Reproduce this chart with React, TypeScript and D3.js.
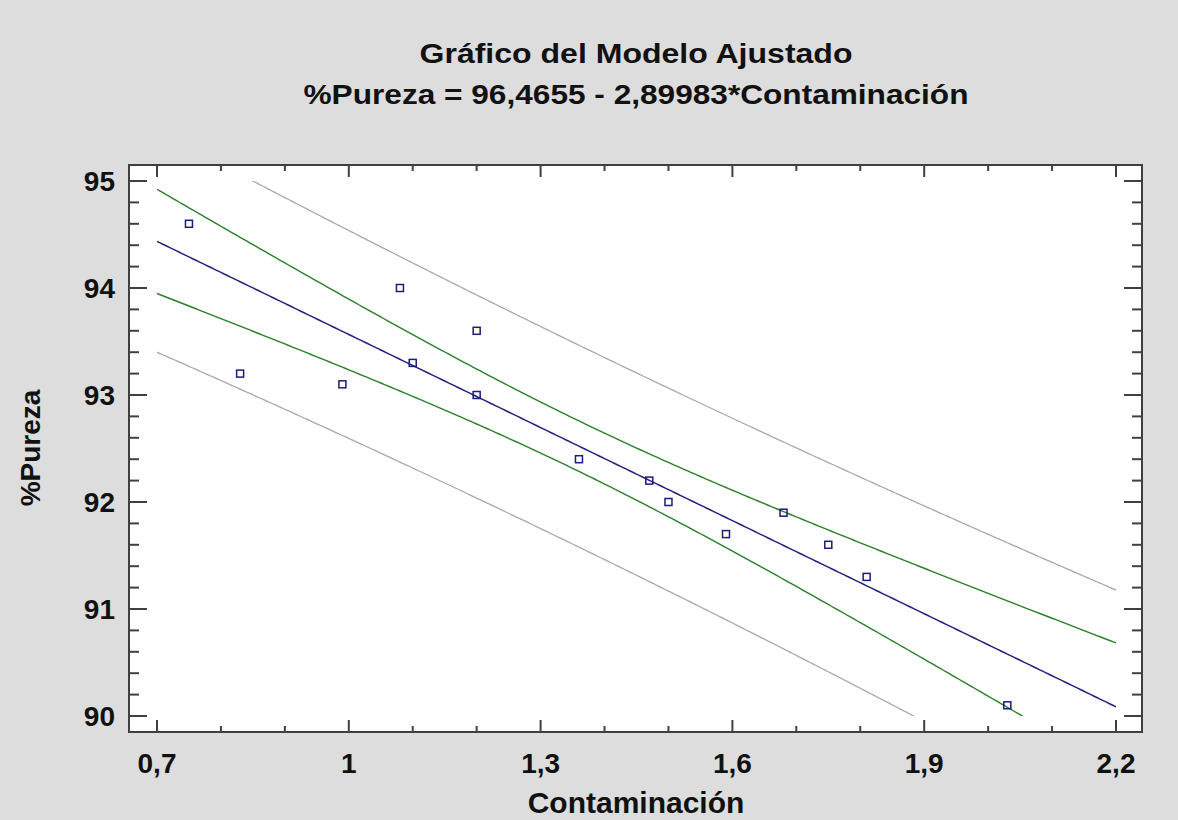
import React, { useEffect, useRef } from 'react';
import * as d3 from 'd3';

// data
const contaminacion = [0.75, 0.83, 0.99, 1.08, 1.1, 1.2, 1.2, 1.36, 1.47, 1.5, 1.59, 1.68, 1.75, 1.81, 2.03];
const pureza = [94.6, 93.2, 93.1, 94.0, 93.3, 93.6, 93.0, 92.4, 92.2, 92.0, 91.7, 91.9, 91.6, 91.3, 90.1];
const xTicks = [0.7, 1.0, 1.3, 1.6, 1.9, 2.2];
const yTicks = [90, 91, 92, 93, 94, 95];
const titleLines = ['Gráfico del Modelo Ajustado', '%Pureza = 96,4655 - 2,89983*Contaminación'];
const tValue = 2.16; // t(0.975, 13)

const fmt = (v: number) => d3.format('.1~f')(v).replace('.', ',');

export default function App() {
  const ref = useRef<SVGSVGElement>(null);

  useEffect(() => {
    draw();
    // eslint-disable-next-line react-hooks/exhaustive-deps
  }, []);

  function fitModel() {
    const n = contaminacion.length;
    const mx = d3.mean(contaminacion) as number;
    const my = d3.mean(pureza) as number;
    let sxx = 0;
    let sxy = 0;
    contaminacion.forEach((x, i) => {
      sxx += (x - mx) * (x - mx);
      sxy += (x - mx) * (pureza[i] - my);
    });
    const slope = sxy / sxx;
    const intercept = my - slope * mx;
    let sse = 0;
    contaminacion.forEach((x, i) => {
      const r = pureza[i] - (intercept + slope * x);
      sse += r * r;
    });
    const s = Math.sqrt(sse / (n - 2));
    return { n, mx, sxx, slope, intercept, s };
  }

  function draw() {
    const svg = d3.select(ref.current);
    svg.selectAll('*').remove();
    const width = 1178;
    const height = 820;
    const frame = { left: 129, top: 165, right: 1142, bottom: 732 };

    svg.append('rect').attr('width', width).attr('height', height).attr('fill', '#dddddd');
    svg
      .append('rect')
      .attr('x', frame.left)
      .attr('y', frame.top)
      .attr('width', frame.right - frame.left)
      .attr('height', frame.bottom - frame.top)
      .attr('fill', '#ffffff');

    const xScale = d3.scaleLinear().domain([0.7, 2.2]).range([157, 1116]);
    const yScale = d3.scaleLinear().domain([90, 95]).range([716, 181]);

    const { n, mx, sxx, slope, intercept, s } = fitModel();
    const grid = d3.range(0.7, 2.2 + 1e-9, 0.005);
    const fit = (x: number) => intercept + slope * x;
    const conf = (x: number) => tValue * s * Math.sqrt(1 / n + ((x - mx) * (x - mx)) / sxx);
    const pred = (x: number) => tValue * s * Math.sqrt(1 + 1 / n + ((x - mx) * (x - mx)) / sxx);

    svg
      .append('defs')
      .append('clipPath')
      .attr('id', 'plot-clip')
      .append('rect')
      .attr('x', xScale(0.7))
      .attr('y', yScale(95))
      .attr('width', xScale(2.2) - xScale(0.7))
      .attr('height', yScale(90) - yScale(95));

    const line = d3
      .line<number[]>()
      .x((d) => xScale(d[0]))
      .y((d) => yScale(d[1]));

    const curves = [
      { f: (x: number) => fit(x) + pred(x), color: '#a9a9a9', w: 1.3 },
      { f: (x: number) => fit(x) - pred(x), color: '#a9a9a9', w: 1.3 },
      { f: (x: number) => fit(x) + conf(x), color: '#2a7f2a', w: 1.4 },
      { f: (x: number) => fit(x) - conf(x), color: '#2a7f2a', w: 1.4 },
      { f: fit, color: '#22227f', w: 1.5 },
    ];
    const g = svg.append('g').attr('clip-path', 'url(#plot-clip)');
    curves.forEach((c) => {
      g.append('path')
        .attr('d', line(grid.map((x) => [x, c.f(x)])))
        .attr('fill', 'none')
        .attr('stroke', c.color)
        .attr('stroke-width', c.w);
    });

    svg
      .selectAll('.pt')
      .data(contaminacion)
      .enter()
      .append('rect')
      .attr('class', 'pt')
      .attr('x', (d) => xScale(d) - 3.5)
      .attr('y', (d, i) => yScale(pureza[i]) - 3.5)
      .attr('width', 7)
      .attr('height', 7)
      .attr('fill', 'none')
      .attr('stroke', '#1c1c7c')
      .attr('stroke-width', 1.5);

    // ticks
    const axisColor = '#404040';
    const xMinor = d3.range(7, 23).map((v) => v / 10);
    const yMinor = d3.range(450, 476).map((v) => v / 5);
    const ticks = svg.append('g').attr('stroke', axisColor).attr('stroke-width', 2);
    xMinor.forEach((v) => {
      const major = xTicks.some((t) => Math.abs(t - v) < 1e-9);
      const len = major ? 12 : 6;
      const x = xScale(v);
      ticks.append('line').attr('x1', x).attr('x2', x).attr('y1', frame.bottom).attr('y2', frame.bottom - len);
      ticks.append('line').attr('x1', x).attr('x2', x).attr('y1', frame.top).attr('y2', frame.top + len);
    });
    yMinor.forEach((v) => {
      const major = yTicks.some((t) => Math.abs(t - v) < 1e-9);
      const len = major ? 18 : 10;
      const y = yScale(v);
      ticks.append('line').attr('x1', frame.left).attr('x2', frame.left + len).attr('y1', y).attr('y2', y);
      ticks.append('line').attr('x1', frame.right).attr('x2', frame.right - len).attr('y1', y).attr('y2', y);
    });
    svg
      .append('rect')
      .attr('x', frame.left)
      .attr('y', frame.top)
      .attr('width', frame.right - frame.left)
      .attr('height', frame.bottom - frame.top)
      .attr('fill', 'none')
      .attr('stroke', axisColor)
      .attr('stroke-width', 2);

    // labels
    const font = 'Liberation Sans, Arial, sans-serif';
    svg
      .selectAll('.xl')
      .data(xTicks)
      .enter()
      .append('text')
      .attr('x', (d) => xScale(d))
      .attr('y', 773)
      .attr('text-anchor', 'middle')
      .attr('font-family', font)
      .attr('font-weight', 'bold')
      .attr('font-size', 28)
      .attr('fill', '#111')
      .text((d) => fmt(d));
    svg
      .selectAll('.yl')
      .data(yTicks)
      .enter()
      .append('text')
      .attr('x', 115)
      .attr('y', (d) => yScale(d) + 10)
      .attr('text-anchor', 'end')
      .attr('font-family', font)
      .attr('font-weight', 'bold')
      .attr('font-size', 28)
      .attr('fill', '#111')
      .text((d) => d);

    svg
      .append('text')
      .attr('x', 636)
      .attr('y', 813)
      .attr('text-anchor', 'middle')
      .attr('font-family', font)
      .attr('font-weight', 'bold')
      .attr('font-size', 30)
      .attr('fill', '#111')
      .text('Contaminación');
    svg
      .append('text')
      .attr('transform', 'translate(40,448) rotate(-90)')
      .attr('text-anchor', 'middle')
      .attr('font-family', font)
      .attr('font-weight', 'bold')
      .attr('font-size', 28)
      .attr('fill', '#111')
      .text('%Pureza');

    const titleY = [63, 104];
    const titleW = [433, 665];
    titleLines.forEach((t, i) => {
      svg
        .append('text')
        .attr('x', 636)
        .attr('y', titleY[i])
        .attr('text-anchor', 'middle')
        .attr('font-family', font)
        .attr('font-weight', 'bold')
        .attr('font-size', 28)
        .attr('textLength', titleW[i])
        .attr('lengthAdjust', 'spacingAndGlyphs')
        .attr('fill', '#111')
        .text(t);
    });
  }

  return (
    <svg
      ref={ref}
      width={1178}
      height={820}
      style={{ position: 'absolute', left: 0, top: 0, display: 'block' }}
    />
  );
}
